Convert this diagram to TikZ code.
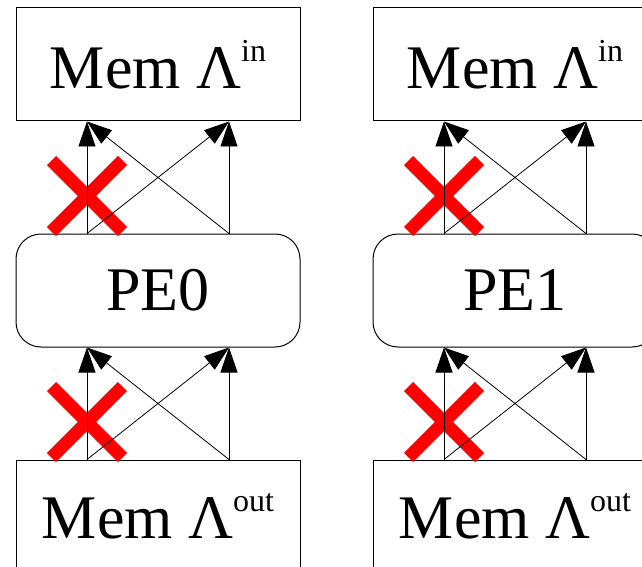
\documentclass[tikz,border=0pt]{standalone}
\usepackage{fontspec}
\setmainfont{Liberation Serif}
\usetikzlibrary{positioning,arrows.meta,shapes.misc}

\newcommand{\memsup}[1]{\raisebox{27pt}{\fontsize{32}{32}\selectfont #1}}

\begin{document}
\begin{tikzpicture}[x=1pt,y=1pt,
  memory/.style={draw, line width=1pt, minimum width=284pt, minimum height=113pt,
    inner sep=0pt, font=\fontsize{62}{70}\selectfont},
  pe/.style={memory, rounded corners=25pt},
  link/.style={line width=0.8pt, -{Triangle[length=25pt,width=17pt]}},
  blocked/.style={draw=red, cross out, line width=13pt, minimum size=71pt,
    inner sep=0pt, outer sep=0pt}]
\useasboundingbox (0,0) rectangle (642,566);
\clip (0,0) rectangle (642,566);

\node[memory] (in0) at (158,501.5) {Mem Λ\memsup{in}};
\node[memory, right=72pt of in0] (in1) {Mem Λ\memsup{in}};
\foreach \i in {0,1} {
  \node[pe, below=112pt of in\i] (pe\i) {PE\i};
  \node[memory, below=112pt of pe\i] (out\i) {Mem Λ\memsup{out}};
}

% blocked paths, then all links
\foreach \s/\t in {pe0/in0, pe1/in1, out0/pe0, out1/pe1} {
  \node[blocked] at ([xshift=-71pt, yshift=37.5pt]\s.north) {};
  \draw[link] ([xshift=-71pt]\s.north) -- ([xshift=-71pt]\t.south);
  \draw[link] ([xshift=71pt]\s.north) -- ([xshift=71pt]\t.south);
  \draw[link] ([xshift=-71pt]\s.north) -- ([xshift=71pt]\t.south);
  \draw[link] ([xshift=71pt]\s.north) -- ([xshift=-71pt]\t.south);
}
\end{tikzpicture}
\end{document}
